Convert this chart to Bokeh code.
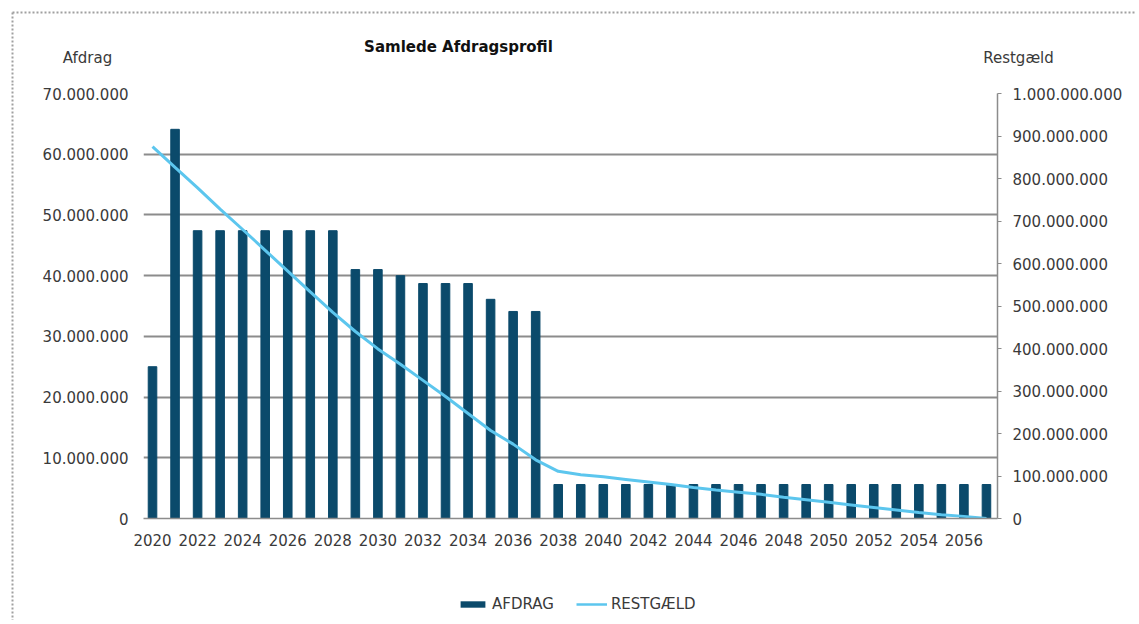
from bokeh.plotting import figure
from bokeh.layouts import column, row
from bokeh.models import Range1d, LinearAxis, FixedTicker, Label, Legend, LegendItem, ColumnDataSource
from bokeh.embed import file_html
from bokeh.resources import INLINE

# ---- data (millions of kroner) ----
years = [2020, 2021, 2022, 2023, 2024, 2025, 2026, 2027, 2028, 2029,
         2030, 2031, 2032, 2033, 2034, 2035, 2036, 2037, 2038, 2039,
         2040, 2041, 2042, 2043, 2044, 2045, 2046, 2047, 2048, 2049,
         2050, 2051, 2052, 2053, 2054, 2055, 2056, 2057]
afdrag_mio = [25.0, 64.1, 47.4, 47.4, 47.4, 47.4, 47.4, 47.4, 47.4, 41.0,
              41.0, 40.0, 38.7, 38.7, 38.7, 36.1, 34.1, 34.1, 5.6, 5.6,
              5.6, 5.6, 5.6, 5.6, 5.6, 5.6, 5.6, 5.6, 5.6, 5.6,
              5.6, 5.6, 5.6, 5.6, 5.6, 5.6, 5.6, 5.6]
restgaeld_mio = [875, 826, 778, 728, 680, 631, 582, 533, 485, 440,
                 399, 363, 325, 287, 247, 207, 175, 138, 111, 103,
                 98, 92, 86, 80, 73, 67, 62, 57, 50, 44,
                 38, 32, 26, 20, 14, 9, 5, 0]
left_ticks_mio = [0, 10, 20, 30, 40, 50, 60, 70]
right_ticks_mio = [0, 100, 200, 300, 400, 500, 600, 700, 800, 900, 1000]
year_ticks = [2020, 2022, 2024, 2026, 2028, 2030, 2032, 2034, 2036, 2038,
              2040, 2042, 2044, 2046, 2048, 2050, 2052, 2054, 2056]

title_text = "Samlede Afdragsprofil"
left_title = "Afdrag"
right_title = "Restgæld"
series_names = ["AFDRAG", "RESTGÆLD"]

FONT = "DejaVu Sans"
TXT = "#3a3a3a"
BAR = "#0b4a6b"
LINE = "#5cc6ee"
GRID = "#8c8c8c"
FRAME = "#a0a0a0"


def dk(v):
    return f"{int(v):,}".replace(",", ".")


def blank(width, height, xr, yr):
    f = figure(width=width, height=height, output_backend="svg", toolbar_location=None,
               x_range=Range1d(*xr), y_range=Range1d(*yr), x_axis_type=None, y_axis_type=None,
               min_border=0, min_border_left=0, min_border_right=0, min_border_top=0,
               min_border_bottom=0)
    f.outline_line_color = None
    f.grid.visible = False
    return f


src = ColumnDataSource(data=dict(
    year=years,
    afdrag=[v * 1_000_000 for v in afdrag_mio],
    rest=[v * 1_000_000 for v in restgaeld_mio],
))

# ---- header (title + axis titles), page-pixel coordinates ----
header = blank(1135, 83, (0, 1135), (83, 0))
header.segment(x0=[12, 12], y0=[12, 12], x1=[1135, 12], y1=[12, 83],
               line_color=FRAME, line_width=2, line_dash="2 2")
header.add_layout(Label(x=458, y=46, text=title_text, text_font=FONT, text_font_size="15px",
                        text_font_style="bold", text_color="#111111", text_align="center",
                        text_baseline="middle"))
header.add_layout(Label(x=87, y=57, text=left_title, text_font=FONT, text_font_size="15px",
                        text_color=TXT, text_align="center", text_baseline="middle"))
header.add_layout(Label(x=1018, y=57, text=right_title, text_font=FONT, text_font_size="15px",
                        text_color=TXT, text_align="center", text_baseline="middle"))

# ---- left border strip ----
strip = blank(16, 537, (0, 16), (620, 83))
strip.segment(x0=[12], y0=[83], x1=[12], y1=[620], line_color=FRAME, line_width=2, line_dash="2 2")

# ---- main chart ----
p = figure(width=1119, height=480, output_backend="svg", toolbar_location=None,
           x_range=Range1d(2019.6, 2057.49), y_range=Range1d(0, 70_000_000),
           min_border_left=127, min_border_top=10, min_border_right=138, min_border_bottom=45)
p.outline_line_color = None
p.extra_y_ranges = {"right": Range1d(0, 1_000_000_000)}

r_bar = p.vbar(x="year", top="afdrag", width=0.38, source=src, fill_color=BAR, line_color=BAR)
r_line = p.line(x="year", y="rest", source=src, line_color=LINE, line_width=3, y_range_name="right")

left_ticks = [v * 1_000_000 for v in left_ticks_mio]
right_ticks = [v * 1_000_000 for v in right_ticks_mio]

yax = p.yaxis[0]
yax.ticker = FixedTicker(ticks=left_ticks)
yax.major_label_overrides = {t: dk(t) for t in left_ticks}
yax.axis_line_color = None
yax.major_tick_line_color = None
yax.minor_tick_line_color = None
yax.major_tick_out = 0
yax.major_label_standoff = 15

rax = LinearAxis(y_range_name="right", ticker=FixedTicker(ticks=right_ticks))
rax.major_label_overrides = {t: dk(t) for t in right_ticks}
rax.axis_line_color = GRID
rax.axis_line_width = 1.5
rax.major_tick_line_color = GRID
rax.major_tick_in = 0
rax.major_tick_out = 4
rax.minor_tick_line_color = None
rax.major_label_standoff = 11
p.add_layout(rax, "right")

xax = p.xaxis[0]
xax.ticker = FixedTicker(ticks=year_ticks)
xax.axis_line_color = GRID
xax.axis_line_width = 1.5
xax.major_tick_line_color = None
xax.minor_tick_line_color = None
xax.major_tick_out = 0
xax.major_label_standoff = 15

for ax in (xax, yax, rax):
    ax.major_label_text_font = FONT
    ax.major_label_text_font_size = "15px"
    ax.major_label_text_color = TXT

p.xgrid.grid_line_color = None
p.ygrid.ticker = FixedTicker(ticks=left_ticks)
p.ygrid.grid_line_color = GRID
p.ygrid.grid_line_width = 2

# ---- footer with legend (proxies of the same series, mapped just below the view) ----
footer = blank(1119, 57, (2019.6, 2057.49), (1e15, 2e15))
d_bar = footer.vbar(x="year", top="afdrag", width=0.38, source=src, fill_color=BAR, line_color=None)
d_line = footer.line(x="year", y="rest", source=src, line_color=LINE, line_width=2.5)
legend = Legend(items=[LegendItem(label=series_names[0], renderers=[d_bar]),
                       LegendItem(label=series_names[1], renderers=[d_line])],
                orientation="horizontal", location=(314, 7),
                glyph_width=31, glyph_height=8, label_standoff=4, spacing=22,
                padding=0, margin=0, border_line_alpha=0, background_fill_alpha=0,
                label_text_font=FONT, label_text_font_size="15px", label_text_color=TXT)
footer.add_layout(legend, "center")

layout = column(header, row(strip, column(p, footer)))
open("out.html", "w").write(file_html(layout, INLINE))
